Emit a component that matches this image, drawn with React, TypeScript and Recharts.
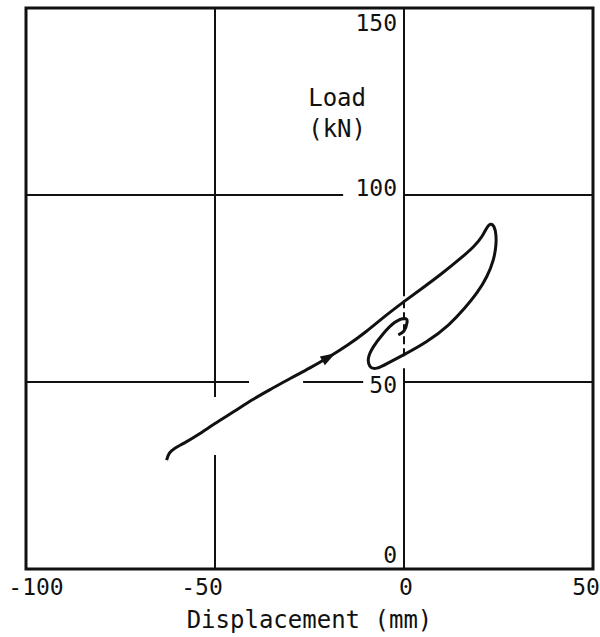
import React from "react";
import {
  LineChart,
  Line,
  XAxis,
  YAxis,
  ReferenceLine,
  ReferenceArea,
  ReferenceDot,
} from "recharts";

// load-displacement path in drawing order
const displacement = [
  -62.8, -62.1, -60.6, -58.3, -54.5, -50.0, -45.0, -40.0, -35.0, -30.0, -25.0,
  -20.0, -15.0, -10.0, -5.0, 0.0, 5.0, 10.0, 15.0, 18.5, 20.6, 21.9, 22.9, 23.8,
  24.3, 24.3, 23.6, 21.9, 19.4, 16.0, 11.8, 6.0, 0.0, -4.0, -7.2, -9.0, -9.4,
  -8.1, -5.5, -2.5, 0.2, 0.8, 0.0, -1.5,
];
const load = [
  29.1, 30.9, 32.3, 33.6, 35.9, 38.9, 42.1, 45.3, 48.2, 51.0, 53.7, 56.6, 59.8,
  63.5, 67.6, 71.5, 75.2, 79.0, 83.1, 86.3, 88.9, 91.2, 92.2, 91.5, 89.4, 86.5,
  82.6, 78.2, 74.0, 69.7, 65.3, 60.8, 57.3, 55.2, 53.7, 54.2, 56.4, 59.4, 62.9,
  65.9, 67.0, 65.9, 63.7, 62.6,
];

const xTicks = [-100, -50, 0, 50];
const yTicks = [0, 50, 100, 150];
const arrowAt = { x: -20.0, y: 56.6 };

// grid pieces (broken where labels / curve sit in the original)
const hSegments = [
  { y: 100, from: -100, to: -16.1 },
  { y: 100, from: 0, to: 50 },
  { y: 50, from: -100, to: -41 },
  { y: 50, from: -26.7, to: -10.8 },
  { y: 50, from: 0, to: 50 },
];
const vSegments = [
  { x: -50, from: 0, to: 30.5, dashed: false },
  { x: -50, from: 46, to: 150, dashed: false },
  { x: 0, from: 0, to: 53.7, dashed: false },
  { x: 0, from: 56.9, to: 74.6, dashed: true },
  { x: 0, from: 74.6, to: 150, dashed: false },
];

const data = displacement.map((x, i) => ({ x, load: load[i] }));

const FONT = "'DejaVu Sans Mono', monospace";
const INK = "#111";

// small nudges so tick text sits like the printed figure
const xTickShift: Record<number, number> = { "-100": 10, "-50": -13, "0": 2, "50": -7 };
const yTickShift: Record<number, number> = { "0": -6, "50": 11, "100": 1, "150": 23 };

const XTick = (props: any) => {
  const { x, y, payload } = props;
  return (
    <text
      x={x + (xTickShift[payload.value] ?? 0)}
      y={y + 26}
      textAnchor="middle"
      fontFamily={FONT}
      fontSize={23}
      fill={INK}
    >
      {payload.value}
    </text>
  );
};

export default function App() {
  return (
    <div style={{ position: "absolute", left: 0, top: 0, background: "#fff" }}>
      <LineChart
        width={600}
        height={637}
        data={data}
        margin={{ top: 8, right: 7, left: 26, bottom: 0 }}
      >
        <XAxis
          type="number"
          dataKey="x"
          domain={[-100, 50]}
          ticks={xTicks}
          interval={0}
          height={68}
          tickSize={0}
          tickMargin={0}
          axisLine={false}
          tickLine={false}
          tick={<XTick />}
          label={({ viewBox }: any) => (
            <text
              x={viewBox.x + viewBox.width / 2}
              y={viewBox.y + 59}
              textAnchor="middle"
              fontFamily={FONT}
              fontSize={24}
              fill={INK}
            >
              Displacement (mm)
            </text>
          )}
        />
        <YAxis type="number" domain={[0, 150]} ticks={yTicks} hide />

        {hSegments.map((s, i) => (
          <ReferenceLine
            key={`h-${i}`}
            segment={[
              { x: s.from, y: s.y },
              { x: s.to, y: s.y },
            ]}
            stroke={INK}
            strokeWidth={2}
          />
        ))}
        {vSegments.map((s, i) => (
          <ReferenceLine
            key={`v-${i}`}
            segment={[
              { x: s.x, y: s.from },
              { x: s.x, y: s.to },
            ]}
            stroke={INK}
            strokeWidth={2}
            strokeDasharray={s.dashed ? "8 4" : undefined}
          />
        ))}

        <ReferenceArea
          x1={-100}
          x2={50}
          y1={0}
          y2={150}
          fill="none"
          fillOpacity={0}
          stroke={INK}
          strokeWidth={3}
        />

        {yTicks.map((v) => (
          <ReferenceDot
            key={`yt-${v}`}
            x={0}
            y={v}
            r={0}
            shape={(p: any) => (
              <text
                x={p.cx - 7}
                y={p.cy + yTickShift[v]}
                textAnchor="end"
                fontFamily={FONT}
                fontSize={23}
                fill={INK}
              >
                {v}
              </text>
            )}
          />
        ))}

        <ReferenceDot
          x={-17.7}
          y={121}
          r={0}
          shape={(p: any) => (
            <text textAnchor="middle" fontFamily={FONT} fontSize={24} fill={INK}>
              <tspan x={p.cx} y={p.cy - 10}>Load</tspan>
              <tspan x={p.cx} y={p.cy + 21}>(kN)</tspan>
            </text>
          )}
        />

        <Line
          type="natural"
          dataKey="load"
          stroke={INK}
          strokeWidth={3}
          dot={false}
          isAnimationActive={false}
        />

        <ReferenceDot
          x={arrowAt.x}
          y={arrowAt.y}
          r={0}
          shape={(p: any) => (
            <polygon
              points="8,0 -7,-5 -7,5"
              fill={INK}
              transform={`translate(${p.cx},${p.cy}) rotate(-30)`}
            />
          )}
        />
      </LineChart>
    </div>
  );
}
